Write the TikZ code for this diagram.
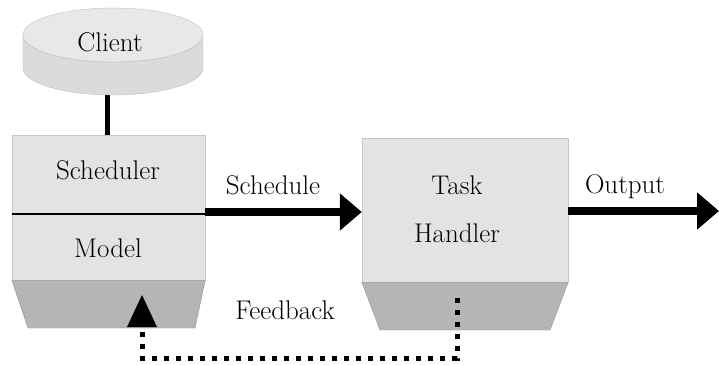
\documentclass[tikz,border=0pt]{standalone}
\usetikzlibrary{arrows.meta}

\begin{document}
\begin{tikzpicture}[
            x=1pt, y=-1pt, % one unit is one pixel of the drawing, y goes down
            every node/.style={font=\fontsize{27}{32}\selectfont, inner sep=0pt},
            lightbox/.style={fill=gray!22, draw=gray!45, thin},
            darkbase/.style={fill=gray!58, draw=gray!85, thin},
            bigarrow/.style={line width=8pt, -{Triangle[width=36pt, length=22pt]}},
            feedline/.style={line width=5pt, dash pattern=on 5pt off 7pt}
        ]

            % 0. Fix the size of the page
            \useasboundingbox (0,0) rectangle (719,364);

            % 1. The Client cylinder
            \fill[gray!28, draw=gray!50, thin]
                (23,35) -- (23,68) arc[start angle=180, end angle=360, x radius=90, y radius=-27]
                -- (203,35) arc[start angle=0, end angle=180, x radius=90, y radius=27] -- cycle;
            \draw[gray!50, thin, fill=gray!18] (113,35) ellipse[x radius=90, y radius=27];
            \node (client) at (110,42) {Client};
            \coordinate (clientbottom) at (107,95);

            % 2. Scheduler / Model block
            \node[lightbox, minimum width=193pt, minimum height=145pt] (schedbox) at (108.5,207.5) {};
            \draw[darkbase] (schedbox.south west) -- (schedbox.south east) -- (195,328) -- (28,328) -- cycle;
            \draw[line width=2pt] (12,214) -- (205,214); % divider
            \node (scheduler) at (108,170) {Scheduler};
            \node (model) at (108,248) {Model};

            % 3. Task Handler block
            \node[lightbox, minimum width=206pt, minimum height=144pt] (taskbox) at (465,210) {};
            \draw[darkbase] (taskbox.south west) -- (taskbox.south east) -- (550,330) -- (380,330) -- cycle;
            \node (task) at (457,185) {Task};
            \node (handler) at (457,233) {Handler};

            % 4. Connectors
            \draw[line width=5pt] (clientbottom) -- (clientbottom |- schedbox.north);

            \coordinate (schout) at (205,212);
            \draw[bigarrow] (schout) -- (schout -| taskbox.west);
            \node (schedule) at (273,185) {Schedule};

            \coordinate (outend) at (719,211);
            \draw[bigarrow] (taskbox.east |- outend) -- (outend);
            \node (output) at (625,187) {Output};

            % 5. Feedback loop (dotted)
            \coordinate (fbstart) at (457,298);
            \coordinate (fbend) at (142,295);
            \draw[feedline] (fbstart) -- (457,358) -- (142,358) -- (142,330);
            \fill (142,327) -- (127,327) -- (fbend) -- (157,327) -- cycle;
            \node (feedback) at (285,310) {Feedback};

        \end{tikzpicture}
\end{document}
